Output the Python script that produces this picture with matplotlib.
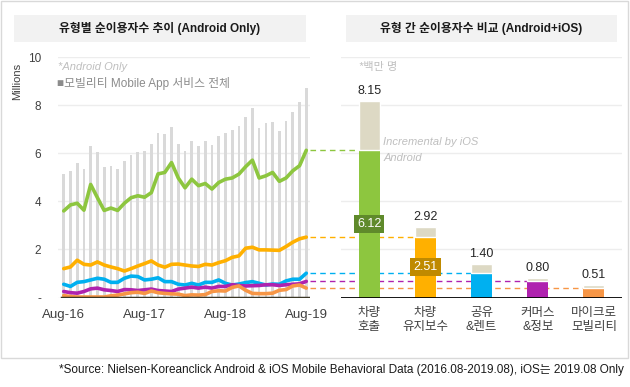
import numpy as np
import matplotlib
matplotlib.use("Agg")
import matplotlib.pyplot as plt
from matplotlib.patches import Rectangle

plt.rcParams['font.family'] = ['Liberation Sans', 'Noto Sans CJK KR']

# monthly Android unique users (millions), Aug-16 .. Aug-19
tick_pos = [0, 12, 24, 36]
tick_labels = ['Aug-16', 'Aug-17', 'Aug-18', 'Aug-19']

total = [5.15, 5.28, 5.58, 5.33, 6.28, 6.05, 5.41, 5.45, 5.33, 5.69, 5.91, 6.03, 6.10,
         6.40, 6.82, 6.80, 7.10, 6.40, 6.08, 6.52, 6.31, 6.52, 6.35, 6.73, 6.84, 6.98,
         7.15, 7.52, 7.87, 7.03, 7.24, 7.31, 6.94, 7.35, 7.73, 8.12, 8.70]
hailing = [3.60, 3.85, 3.92, 3.63, 4.70, 4.15, 3.62, 3.72, 3.62, 3.92, 4.15, 4.23, 4.17,
           4.36, 5.14, 5.20, 5.61, 4.97, 4.56, 4.92, 4.65, 4.74, 4.51, 4.78, 4.92, 4.97,
           5.13, 5.44, 5.71, 4.97, 5.06, 5.20, 4.83, 4.97, 5.27, 5.48, 6.12]
maint = [1.20, 1.27, 1.55, 1.38, 1.35, 1.48, 1.35, 1.27, 1.20, 1.10, 1.20, 1.31, 1.41,
         1.52, 1.35, 1.26, 1.38, 1.39, 1.35, 1.31, 1.29, 1.38, 1.35, 1.45, 1.53, 1.67,
         1.73, 2.05, 2.09, 1.98, 1.98, 1.97, 1.96, 2.12, 2.30, 2.44, 2.51]
sharing = [0.55, 0.46, 0.63, 0.66, 0.73, 0.80, 0.76, 0.63, 0.63, 0.80, 0.89, 0.87, 0.73,
           0.76, 0.82, 0.66, 0.66, 0.55, 0.52, 0.59, 0.52, 0.63, 0.63, 0.73, 0.59, 0.52,
           0.56, 0.62, 0.66, 0.59, 0.52, 0.56, 0.55, 0.69, 0.76, 0.76, 1.01]
commerce = [0.25, 0.20, 0.18, 0.25, 0.36, 0.39, 0.32, 0.29, 0.25, 0.33, 0.32, 0.29, 0.32,
            0.35, 0.29, 0.27, 0.25, 0.35, 0.39, 0.43, 0.39, 0.43, 0.39, 0.46, 0.46, 0.53,
            0.50, 0.48, 0.49, 0.50, 0.53, 0.53, 0.50, 0.53, 0.55, 0.57, 0.67]
micro = [0.08, 0.04, 0.02, 0.02, 0.02, 0.02, 0.02, 0.07, 0.10, 0.15, 0.20, 0.22, 0.17,
         0.27, 0.20, 0.17, 0.15, 0.14, 0.08, 0.11, 0.10, 0.12, 0.25, 0.28, 0.27, 0.42,
         0.48, 0.30, 0.17, 0.16, 0.16, 0.18, 0.30, 0.33, 0.48, 0.52, 0.39]

# Aug-19 comparison
cats = ['차량\n호출', '차량\n유지보수', '공유\n&렌트', '커머스\n&정보', '마이크로\n모빌리티']
android = [6.12, 2.51, 1.01, 0.67, 0.39]
with_ios = [8.15, 2.92, 1.40, 0.80, 0.51]

colors = ['#8DC63F', '#FFB000', '#00B0F0', '#AF22AF', '#F79646']
series = [hailing, maint, sharing, commerce, micro]

W, H = 630, 387
fig = plt.figure(figsize=(W / 100, H / 100), dpi=100)

def fx(px):
    return px / W

def fy(py):
    return 1 - py / H

y0, y10 = 297.5, 57
ax1 = fig.add_axes([fx(58), fy(y0), fx(310 - 58), (y0 - y10) / H])
ax2 = fig.add_axes([fx(341), fy(y0), fx(622 - 341), (y0 - y10) / H])

# outer frame and title boxes
fig.patches.append(Rectangle((fx(1), fy(358)), fx(627), (357) / H, transform=fig.transFigure,
                             fill=False, ec='#D9D9D9', lw=1))
fig.patches.append(Rectangle((fx(14), fy(42)), fx(292), 27 / H, transform=fig.transFigure,
                             fc='#F2F2F2', ec='none'))
fig.patches.append(Rectangle((fx(346), fy(42)), fx(271), 27 / H, transform=fig.transFigure,
                             fc='#F2F2F2', ec='none'))
fig.text(fx(160), fy(28.5), '유형별 순이용자수 추이 (Android Only)', ha='center', va='center',
         fontsize=8.5, fontweight='bold', color='#1A1A1A')
fig.text(fx(481), fy(28.5), '유형 간 순이용자수 비교 (Android+iOS)', ha='center', va='center',
         fontsize=8.5, fontweight='bold', color='#1A1A1A')

# ---- left: trend
x = np.arange(len(total))
ax1.bar(x, total, width=0.4, color='#D9D9D9', zorder=1)
for s, c in zip(series, colors):
    ax1.plot(x, s, color=c, lw=2.6, solid_joinstyle='round', solid_capstyle='round', zorder=3)
ax1.axhline(0, color='#3A3626', lw=2.5, xmin=0.015, zorder=4)
ax1.set_xlim(-0.85, 36.55)
ax1.set_ylim(0, 10)
ax1.set_yticks([0, 2, 4, 6, 8, 10])
ax1.set_yticklabels(['-', '2', '4', '6', '8', '10'])
ax1.set_xticks(tick_pos)
ax1.set_xticklabels(tick_labels)
ax1.tick_params(axis='y', length=0, pad=12, labelsize=8.5, labelcolor='#404040')
ax1.tick_params(axis='x', length=0, pad=8, labelsize=9.5, labelcolor='#404040')
ax1.grid(axis='y', color='#EDEDED', lw=1)
ax1.set_axisbelow(True)
for sp in ax1.spines.values():
    sp.set_visible(False)
fig.text(fx(17), fy(81), 'Millions', rotation=90, ha='center', va='center', fontsize=8,
         color='#404040')
ax1.text(-0.85, 9.6, '*Android Only', fontsize=8, style='italic', color='#BFBFBF',
         va='center', ha='left')
ax1.text(-0.95, 8.9, '■모빌리티 Mobile App 서비스 전체', fontsize=8.5, color='#8C8C8C',
         va='center', ha='left')

# ---- right: comparison
xr = np.arange(len(cats))
bw = 0.375
ax2.bar(xr, android, width=bw, color=colors, zorder=2)
inc = [t - a for t, a in zip(with_ios, android)]
ax2.bar(xr, inc, bottom=android, width=bw, color='#DDD9C4', edgecolor='white', lw=1, zorder=2)
for xi, t in zip(xr, with_ios):
    ax2.annotate(f'{t:.2f}', (xi, t), xytext=(0, 3), textcoords='offset points',
                 ha='center', va='bottom', fontsize=9, color='#262626')
box_cols = ['#5F8A2B', '#BF8A00']
for i, bc in enumerate(box_cols):
    ax2.text(xr[i], android[i] / 2, f'{android[i]:.2f}', ha='center', va='center',
             fontsize=9, color='white', zorder=5,
             bbox=dict(boxstyle='square,pad=0.25', fc=bc, ec='none'))
ax2.axhline(0, color='black', lw=2, zorder=4)
ax2.set_xlim(-0.5, 4.5)
ax2.set_ylim(0, 10)
ax2.set_yticks([2, 4, 6, 8, 10])
ax2.set_yticklabels([])
ax2.set_xticks(xr)
ax2.set_xticklabels(cats, fontsize=9, color='#404040', linespacing=1.2)
ax2.tick_params(length=0, pad=7)
ax2.grid(axis='y', color='#EDEDED', lw=1)
ax2.set_axisbelow(True)
for sp in ax2.spines.values():
    sp.set_visible(False)
ax2.text(-0.18, 9.6, '*백만 명', fontsize=8, style='italic', color='#BFBFBF', va='center')
ax2.text(0.25, 6.45, 'Incremental by iOS', fontsize=8, style='italic', color='#BFBFBF',
         va='center')
ax2.text(0.25, 5.8, 'Android', fontsize=8, style='italic', color='#BFBFBF', va='center')

# dashed connectors from last month to each bar
x_start = -0.5 - (341 - 310) / (622 - 341) * 5
for a, c, xi in zip(android, colors, xr):
    ax2.plot([x_start, xi - bw / 2], [a, a], color=c, lw=1, ls=(0, (4, 3)),
             clip_on=False, zorder=1)

fig.text(fx(624), fy(370), '*Source: Nielsen-Koreanclick Android & iOS Mobile Behavioral Data '
         '(2016.08-2019.08), iOS는 2019.08 Only', ha='right', va='center', fontsize=8.5,
         color='#1A1A1A')

fig.savefig('out.png', dpi=100)
